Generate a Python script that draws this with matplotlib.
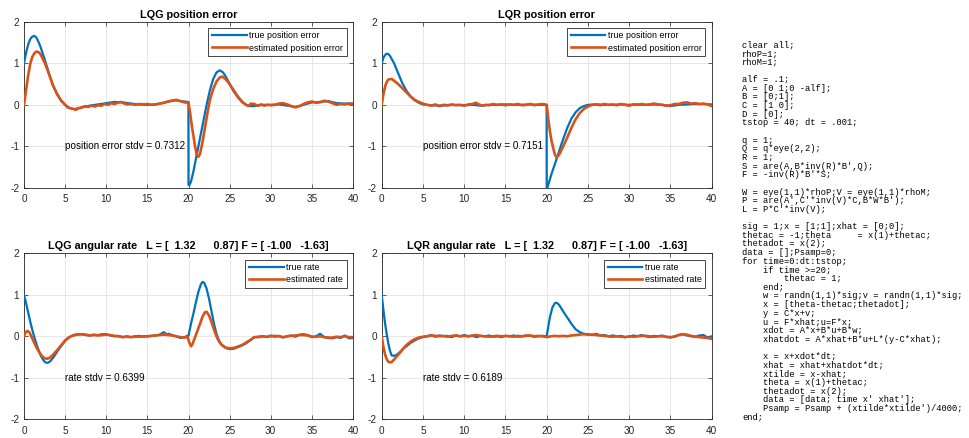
import matplotlib
matplotlib.use("Agg")
import matplotlib.pyplot as plt

# ---------------- data ----------------
# LQG position error
lqg_pos_t_true = [0, 0.25, 0.5, 0.75, 1.0, 1.25, 1.5, 1.75, 2.0, 2.5, 3.0, 3.5, 4.0, 4.5, 5.0, 5.5, 6.0, 6.5, 7.0,
                  8.0, 9.0, 10.0, 11.0, 12.0, 13.0, 14.0, 15.0, 16.0, 17.0, 18.0, 18.5, 19.0, 19.99, 20.0, 20.1,
                  20.3, 20.6, 21.0, 21.4, 21.8, 22.2, 22.6, 23.0, 23.4, 23.8, 24.2, 24.6, 25.0, 25.5, 26.0, 26.5,
                  27.0, 27.5, 28.0, 29, 30, 31, 32, 33, 34, 35, 36, 37, 38, 39, 40]
lqg_pos_true = [1.0, 1.25, 1.45, 1.58, 1.64, 1.66, 1.62, 1.52, 1.40, 1.10, 0.78, 0.48, 0.26, 0.10, 0.0, -0.07, -0.1,
                -0.09, -0.06, -0.02, 0.01, 0.04, 0.07, 0.06, 0.03, 0.01, 0.0, 0.01, 0.05, 0.1, 0.11, 0.09, 0.07,
                -1.93, -1.93, -1.85, -1.6, -1.2, -0.8, -0.4, 0.0, 0.35, 0.62, 0.78, 0.83, 0.78, 0.66, 0.5, 0.32,
                0.18, 0.07, 0.0, -0.03, -0.03, 0.0, 0.0, 0.01, -0.02, -0.05, 0.0, 0.06, 0.07, 0.09, 0.04, 0.03, 0.03]
lqg_pos_t_est = [0, 0.25, 0.5, 0.75, 1.0, 1.25, 1.5, 1.75, 2.0, 2.5, 3.0, 3.5, 4.0, 4.5, 5.0, 5.3, 5.6, 6.0, 6.3, 6.6,
                 7.0, 7.4, 7.8, 8.2, 8.6, 9.0, 9.4, 9.8, 10.2, 10.6, 11.0, 11.4, 11.8, 12.2, 12.6, 13.0, 13.5, 14.0,
                 14.5, 15.0, 15.5, 16.0, 16.5, 17.0, 17.5, 18.0, 18.5, 19.0, 19.5, 20.0, 20.2, 20.4, 20.6, 20.8,
                 21.0, 21.2, 21.4, 21.7, 22.0, 22.3, 22.6, 23.0, 23.4, 23.8, 24.1, 24.5, 25.0, 25.5, 26.0, 26.5,
                 27.0, 27.3, 27.6, 28.0, 28.4, 28.8, 29.2, 29.6, 30.0, 30.5, 31.0, 31.5, 32.0, 32.5, 33.0, 33.5,
                 34.0, 34.5, 35.0, 35.5, 36.0, 36.5, 37.0, 37.5, 38.0, 38.5, 39.0, 39.5, 40.0]
lqg_pos_est = [0.0, 0.35, 0.7, 0.98, 1.15, 1.24, 1.28, 1.27, 1.22, 1.02, 0.76, 0.48, 0.27, 0.11, 0.0, -0.06, -0.08,
               -0.1, -0.12, -0.08, -0.07, -0.03, -0.05, -0.02, -0.04, -0.01, -0.02, 0.02, 0.0, 0.04, 0.02, 0.05,
               0.07, 0.03, 0.01, 0.02, 0.0, 0.02, 0.01, 0.02, 0.0, 0.01, 0.03, 0.05, 0.08, 0.1, 0.12, 0.09, 0.06,
               0.05, -0.2, -0.5, -0.75, -1.0, -1.2, -1.25, -1.18, -0.9, -0.55, -0.2, 0.12, 0.38, 0.56, 0.66, 0.68,
               0.62, 0.5, 0.35, 0.2, 0.08, 0.0, -0.03, 0.03, 0.02, -0.02, 0.01, -0.02, 0.0, -0.01, 0.0, 0.03, 0.04,
               0.01, -0.03, -0.06, -0.03, 0.02, 0.06, 0.08, 0.05, 0.06, 0.1, 0.08, 0.04, 0.0, 0.02, 0.01, 0.03, 0.02]

# LQR position error
lqr_pos_t_true = [0, 0.25, 0.5, 0.75, 1.0, 1.5, 2.0, 2.5, 3.0, 3.5, 4.0, 4.5, 5.0, 6, 7, 8, 9, 10, 11, 12, 13, 14,
                  15, 16, 17, 18, 19, 19.99, 20.0, 20.1, 20.3, 20.6, 21.0, 21.5, 22.0, 22.5, 23.0, 23.5, 24.0,
                  24.5, 25.0, 26, 27, 28, 29, 30, 31, 32, 33, 34, 35, 36, 37, 38, 39, 40]
lqr_pos_true = [1.0, 1.15, 1.22, 1.23, 1.18, 1.0, 0.76, 0.52, 0.34, 0.2, 0.11, 0.05, 0.01, -0.01, -0.02, -0.01,
                0.0, -0.01, 0.0, -0.02, 0.0, 0.0, 0.01, 0.0, 0.0, 0.01, 0.0, 0.0, -2.0, -1.98, -1.85, -1.65, -1.42,
                -1.12, -0.82, -0.55, -0.33, -0.18, -0.08, -0.03, 0.0, 0.01, 0.0, 0.0, 0.01, 0.0, 0.01, 0.0, 0.01,
                0.0, -0.03, 0.0, 0.01, 0.02, 0.02, 0.01]
lqr_pos_t_est = [0, 0.25, 0.5, 0.75, 1.0, 1.25, 1.5, 2.0, 2.5, 3.0, 3.5, 4.0, 4.5, 5.0, 5.5, 6.0, 6.5, 7.0, 7.5,
                 8.0, 8.5, 9.0, 9.5, 10.0, 10.5, 11.0, 11.4, 11.8, 12.2, 12.6, 13.0, 13.5, 14.0, 14.5, 15.0, 15.5,
                 16.0, 16.5, 17.0, 17.5, 18.0, 18.5, 19.0, 19.5, 20.0, 20.2, 20.4, 20.6, 20.8, 21.0, 21.2, 21.5,
                 22.0, 22.5, 23.0, 23.5, 24.0, 24.5, 25.0, 25.5, 26.0, 26.5, 27.0, 27.5, 28.0, 28.5, 29.0, 29.5,
                 30.0, 30.5, 31.0, 31.5, 32.0, 32.5, 33.0, 33.5, 34.0, 34.5, 35.0, 35.5, 36.0, 36.5, 37.0, 37.5,
                 38.0, 38.5, 39.0, 39.5, 40.0]
lqr_pos_est = [0.0, 0.3, 0.5, 0.6, 0.62, 0.62, 0.58, 0.5, 0.4, 0.3, 0.2, 0.12, 0.07, 0.03, 0.0, -0.02, 0.01, -0.03,
               0.0, -0.01, 0.01, -0.01, 0.0, -0.02, 0.01, 0.02, 0.05, 0.01, -0.02, 0.0, -0.01, 0.02, 0.0, 0.01,
               -0.01, 0.01, 0.0, 0.02, -0.01, 0.0, 0.02, -0.01, 0.01, 0.02, 0.0, -0.35, -0.65, -0.88, -1.05, -1.2,
               -1.26, -1.2, -1.0, -0.78, -0.55, -0.35, -0.2, -0.1, -0.04, 0.0, 0.01, -0.01, 0.02, 0.0, 0.01, -0.01,
               0.02, 0.0, -0.02, 0.01, 0.0, 0.02, 0.0, 0.01, 0.03, 0.01, 0.0, -0.02, -0.01, 0.02, 0.02, 0.05, 0.06,
               0.03, 0.04, 0.02, 0.03, 0.01, -0.03]

# LQG angular rate
lqg_rate_t_true = [0, 0.25, 0.5, 0.75, 1.0, 1.25, 1.5, 1.75, 2.0, 2.3, 2.6, 2.9, 3.2, 3.6, 4.0, 4.5, 5.0, 5.5, 6.0,
                   6.5, 7.0, 7.5, 8.0, 8.5, 9.0, 9.5, 10.0, 10.5, 11.0, 11.5, 12.0, 12.5, 13.0, 13.5, 14.0, 14.5,
                   15.0, 15.5, 16.0, 16.5, 17.0, 17.3, 17.6, 18.0, 18.5, 19.0, 19.5, 20.0, 20.3, 20.6, 20.9, 21.2,
                   21.5, 21.7, 21.9, 22.2, 22.5, 22.8, 23.1, 23.4, 23.7, 24.0, 24.5, 25.0, 25.5, 26.0, 26.5, 27.0,
                   27.5, 28.0, 28.5, 29.0, 29.5, 30.0, 30.5, 31.0, 31.5, 32.0, 32.5, 33.0, 33.5, 34.0, 34.5, 35.0,
                   35.5, 36.0, 36.5, 37.0, 37.5, 38.0, 38.5, 39.0, 39.5, 40.0]
lqg_rate_true = [1.0, 0.8, 0.58, 0.36, 0.16, -0.02, -0.18, -0.32, -0.45, -0.56, -0.63, -0.64, -0.6, -0.5, -0.38,
                 -0.24, -0.11, -0.02, 0.03, 0.05, 0.05, 0.03, 0.02, 0.04, 0.03, 0.05, 0.05, 0.02, 0.0, 0.01, -0.02,
                 0.0, -0.02, 0.0, 0.01, -0.01, 0.0, 0.01, 0.02, 0.04, 0.1, 0.05, 0.06, 0.03, 0.0, -0.04, -0.02,
                 0.02, 0.3, 0.55, 0.82, 1.07, 1.25, 1.31, 1.29, 1.15, 0.9, 0.6, 0.3, 0.06, -0.1, -0.2, -0.28, -0.31,
                 -0.3, -0.26, -0.22, -0.17, -0.1, -0.02, -0.01, 0.0, -0.02, 0.02, -0.01, 0.01, -0.03, 0.0, 0.02,
                 -0.01, 0.04, 0.05, 0.03, -0.02, 0.0, 0.06, -0.02, -0.03, -0.05, -0.02, -0.04, 0.02, -0.05, -0.04]
lqg_rate_t_est = [0, 0.2, 0.45, 0.7, 1.0, 1.3, 1.6, 1.9, 2.2, 2.5, 2.8, 3.1, 3.5, 4.0, 4.5, 5.0, 5.5, 6.0, 6.5, 7.0,
                  7.5, 8.0, 8.5, 9.0, 9.5, 10.0, 10.5, 11.0, 11.5, 12.0, 12.5, 13.0, 13.5, 14.0, 14.5, 15.0, 15.5,
                  16.0, 16.5, 17.0, 17.5, 18.0, 18.5, 19.0, 19.5, 19.9, 20.1, 20.3, 20.5, 20.8, 21.1, 21.4, 21.7,
                  22.0, 22.2, 22.5, 22.8, 23.1, 23.4, 23.7, 24.0, 24.5, 25.0, 25.5, 26.0, 26.5, 27.0, 27.5, 28.0,
                  28.5, 29.0, 29.5, 30.0, 30.5, 31.0, 31.5, 32.0, 32.5, 33.0, 33.5, 34.0, 34.5, 35.0, 35.5, 36.0,
                  36.5, 37.0, 37.5, 38.0, 38.5, 39.0, 39.5, 40.0]
lqg_rate_est = [0.0, 0.1, 0.13, 0.08, -0.05, -0.18, -0.3, -0.4, -0.48, -0.53, -0.54, -0.52, -0.45, -0.34, -0.22,
                -0.1, -0.02, 0.02, 0.04, 0.05, 0.04, 0.02, 0.03, 0.02, 0.03, 0.04, 0.03, 0.01, 0.0, -0.02, -0.01,
                -0.02, -0.01, -0.01, 0.0, 0.0, 0.01, 0.02, 0.03, 0.04, 0.03, 0.02, 0.0, -0.02, -0.03, -0.02, -0.15,
                -0.24, -0.18, -0.02, 0.14, 0.3, 0.47, 0.58, 0.59, 0.5, 0.34, 0.16, 0.0, -0.12, -0.2, -0.27, -0.29,
                -0.28, -0.25, -0.21, -0.15, -0.09, -0.02, -0.02, 0.0, -0.01, 0.0, 0.01, 0.0, -0.02, 0.0, 0.01,
                0.02, 0.03, 0.03, 0.02, -0.01, -0.01, 0.0, -0.02, -0.04, -0.03, -0.01, -0.02, 0.0, -0.02, -0.02]

# LQR angular rate
lqr_rate_t_true = [0, 0.2, 0.4, 0.6, 0.8, 1.0, 1.2, 1.5, 1.8, 2.2, 2.6, 3.0, 3.5, 4.0, 4.5, 5.0, 5.5, 6.0, 6.5, 7.0,
                   7.5, 8.0, 8.5, 9.0, 9.5, 10.0, 10.5, 11.0, 11.5, 12.0, 12.5, 13.0, 13.5, 14.0, 14.5, 15.0, 15.5,
                   16.0, 16.5, 17.0, 17.5, 18.0, 18.5, 19.0, 19.5, 20.0, 20.2, 20.4, 20.7, 21.0, 21.2, 21.5, 22.0,
                   22.5, 23.0, 23.5, 24.0, 24.5, 25.0, 25.5, 26.0, 26.5, 27.0, 27.5, 28.0, 28.5, 29.0, 29.5, 30.0,
                   30.5, 31.0, 31.5, 32.0, 32.5, 33.0, 33.5, 34.0, 34.5, 35.0, 35.5, 36.0, 36.5, 37.0, 37.5, 38.0,
                   38.5, 39.0, 39.5, 40.0]
lqr_rate_true = [1.0, 0.65, 0.32, 0.06, -0.17, -0.35, -0.46, -0.47, -0.45, -0.38, -0.3, -0.24, -0.16, -0.1, -0.05,
                 -0.02, 0.0, 0.03, -0.01, 0.02, 0.0, 0.01, -0.02, 0.02, 0.0, 0.03, 0.0, 0.01, -0.02, 0.01, 0.0, 0.02,
                 -0.01, 0.0, -0.02, 0.01, 0.0, 0.02, -0.01, 0.0, 0.02, 0.01, -0.01, 0.0, 0.01, 0.0, 0.25, 0.47, 0.7,
                 0.8, 0.81, 0.76, 0.6, 0.45, 0.3, 0.17, 0.1, 0.06, 0.05, 0.03, 0.06, 0.02, 0.03, 0.0, 0.02, 0.0,
                 0.01, -0.02, -0.01, 0.02, 0.0, 0.03, 0.0, -0.02, 0.01, 0.0, 0.02, -0.02, -0.03, 0.0, 0.03, 0.05,
                 0.02, 0.0, -0.01, 0.02, 0.03, -0.03, 0.0]
lqr_rate_t_est = [0, 0.2, 0.4, 0.6, 0.8, 1.0, 1.2, 1.5, 1.8, 2.2, 2.6, 3.0, 3.5, 4.0, 4.5, 5.0, 5.5, 6.0, 6.5, 7.0,
                  7.5, 8.0, 8.5, 9.0, 9.5, 10.0, 10.5, 11.0, 11.5, 12.0, 12.5, 13.0, 13.5, 14.0, 14.5, 15.0, 15.5,
                  16.0, 16.5, 17.0, 17.5, 18.0, 18.5, 19.0, 19.5, 20.0, 20.5, 21.0, 21.5, 22.0, 22.5, 23.0, 23.5,
                  24.0, 24.5, 25.0, 25.5, 26.0, 26.5, 27.0, 27.5, 28.0, 28.5, 29.0, 29.5, 30.0, 30.5, 31.0, 31.5,
                  32.0, 32.5, 33.0, 33.5, 34.0, 34.5, 35.0, 35.5, 36.0, 36.5, 37.0, 37.5, 38.0, 38.5, 39.0, 39.5,
                  40.0]
lqr_rate_est = [0.0, -0.25, -0.43, -0.55, -0.61, -0.63, -0.62, -0.56, -0.49, -0.4, -0.3, -0.21, -0.13, -0.07, -0.03,
                -0.01, 0.0, 0.02, 0.01, 0.0, 0.01, -0.01, 0.01, 0.02, 0.0, 0.01, 0.0, 0.02, 0.03, 0.01, 0.0, -0.01,
                0.0, 0.01, 0.0, 0.01, 0.0, -0.01, 0.01, 0.0, 0.01, 0.02, 0.0, 0.01, 0.0, -0.02, 0.0, 0.01, 0.0,
                0.01, 0.0, 0.02, 0.03, 0.04, 0.05, 0.04, 0.04, 0.03, 0.02, 0.01, 0.0, -0.01, 0.0, -0.01, -0.02, 0.0,
                -0.01, 0.0, 0.01, 0.01, 0.0, -0.01, 0.0, 0.0, -0.01, -0.02, -0.01, 0.03, 0.05, 0.04, 0.01, -0.01,
                -0.02, -0.03, -0.04, -0.06]

titles = ["LQG position error", "LQR position error",
          "LQG angular rate   L = [  1.32      0.87] F = [ -1.00   -1.63]",
          "LQR angular rate   L = [  1.32      0.87] F = [ -1.00   -1.63]"]
legend_pos = ["true position error", "estimated position error"]
legend_rate = ["true rate", "estimated rate"]
stdv_labels = ["position error stdv = 0.7312", "position error stdv = 0.7151",
               "rate stdv = 0.6399", "rate stdv = 0.6189"]
x_ticks = [0, 5, 10, 15, 20, 25, 30, 35, 40]
y_ticks = [-2, -1, 0, 1, 2]

code_lines = [
    "clear all;", "rhoP=1;", "rhoM=1;", "",
    "alf = .1;", "A = [0 1;0 -alf];", "B = [0;1];", "C = [1 0];", "D = [0];",
    "tstop = 40; dt = .001;", "",
    "q = 1;", "Q = q*eye(2,2);", "R = 1;", "S = are(A,B*inv(R)*B',Q);", "F = -inv(R)*B'*S;", "",
    "W = eye(1,1)*rhoP;V = eye(1,1)*rhoM;", "P = are(A',C'*inv(V)*C,B*W*B');", "L = P*C'*inv(V);", "",
    "sig = 1;x = [1;1];xhat = [0;0];", "thetac = -1;theta     = x(1)+thetac;", "thetadot = x(2);",
    "data = [];Psamp=0;", "for time=0:dt:tstop;", "    if time >=20;", "        thetac = 1;", "    end;",
    "    w = randn(1,1)*sig;v = randn(1,1)*sig;", "    x = [theta-thetac;thetadot];", "    y = C*x+v;",
    "    u = F*xhat;u=F*x;", "    xdot = A*x+B*u+B*w;", "    xhatdot = A*xhat+B*u+L*(y-C*xhat);", "",
    "    x = x+xdot*dt;", "    xhat = xhat+xhatdot*dt;", "    xtilde = x-xhat;", "    theta = x(1)+thetac;",
    "    thetadot = x(2);", "    data = [data; time x' xhat'];", "    Psamp = Psamp + (xtilde*xtilde')/4000;",
    "end;"]

# ---------------- figure ----------------
W, H = 969, 438
fig = plt.figure(figsize=(W / 100, H / 100), dpi=100)
plt.rcParams['font.family'] = ['Liberation Sans', 'DejaVu Sans']

BLUE = '#0072BD'
ORANGE = '#D95319'
AXC = '#262626'

def ax_rect(x0, x1, ytop, ybot):
    return [x0 / W, (H - ybot) / H, (x1 - x0) / W, (ybot - ytop) / H]

rects = [ax_rect(24, 353, 21.7, 188), ax_rect(381.7, 711.7, 21.7, 188),
         ax_rect(24, 353, 253.3, 419.3), ax_rect(381.7, 711.7, 253.3, 419.3)]

series = [
    (lqg_pos_t_true, lqg_pos_true, lqg_pos_t_est, lqg_pos_est, legend_pos),
    (lqr_pos_t_true, lqr_pos_true, lqr_pos_t_est, lqr_pos_est, legend_pos),
    (lqg_rate_t_true, lqg_rate_true, lqg_rate_t_est, lqg_rate_est, legend_rate),
    (lqr_rate_t_true, lqr_rate_true, lqr_rate_t_est, lqr_rate_est, legend_rate),
]

for i, (rect, (tt, yt, te, ye, leg)) in enumerate(zip(rects, series)):
    ax = fig.add_axes(rect)
    ax.plot(tt, yt, color=BLUE, lw=1.6, label=leg[0], zorder=3)
    ax.plot(te, ye, color=ORANGE, lw=1.9, label=leg[1], zorder=4)
    ax.set_xlim(0, 40)
    ax.set_ylim(-2, 2)
    ax.set_xticks(x_ticks)
    ax.set_yticks(y_ticks)
    ax.set_xticklabels([str(v) for v in x_ticks])
    ax.set_yticklabels([str(v) for v in y_ticks])
    ax.grid(True, color='#e3e3e3', lw=0.6, zorder=0)
    ax.set_axisbelow(True)
    ax.tick_params(direction='in', length=3, width=0.5, colors=AXC, labelsize=7.2,
                   top=True, right=True)
    ax.tick_params(axis='x', pad=4.5)
    ax.tick_params(axis='y', pad=3.5)
    for sp in ax.spines.values():
        sp.set_color(AXC)
        sp.set_linewidth(0.6)
    ax.set_title(titles[i], fontsize=7.8, fontweight='bold', pad=3, color='black')
    ax.text(5, -1, stdv_labels[i], fontsize=7.1, ha='left', va='center', color='black')
    lg = ax.legend(loc='upper right', fontsize=6.4, frameon=True, fancybox=False,
                   edgecolor=AXC, framealpha=1, borderaxespad=0.7, handlelength=3.9,
                   handletextpad=0.3, borderpad=0.4, labelspacing=0.35)
    lg.get_frame().set_linewidth(0.6)

# code listing
top_px, step_px, left_px = 45, 8.65, 742
for k, line in enumerate(code_lines):
    fig.text(left_px / W, 1 - (top_px + k * step_px) / H, line, family='Liberation Mono',
             fontsize=6.3, ha='left', va='center', color='black')

fig.savefig('out.png', dpi=100)
